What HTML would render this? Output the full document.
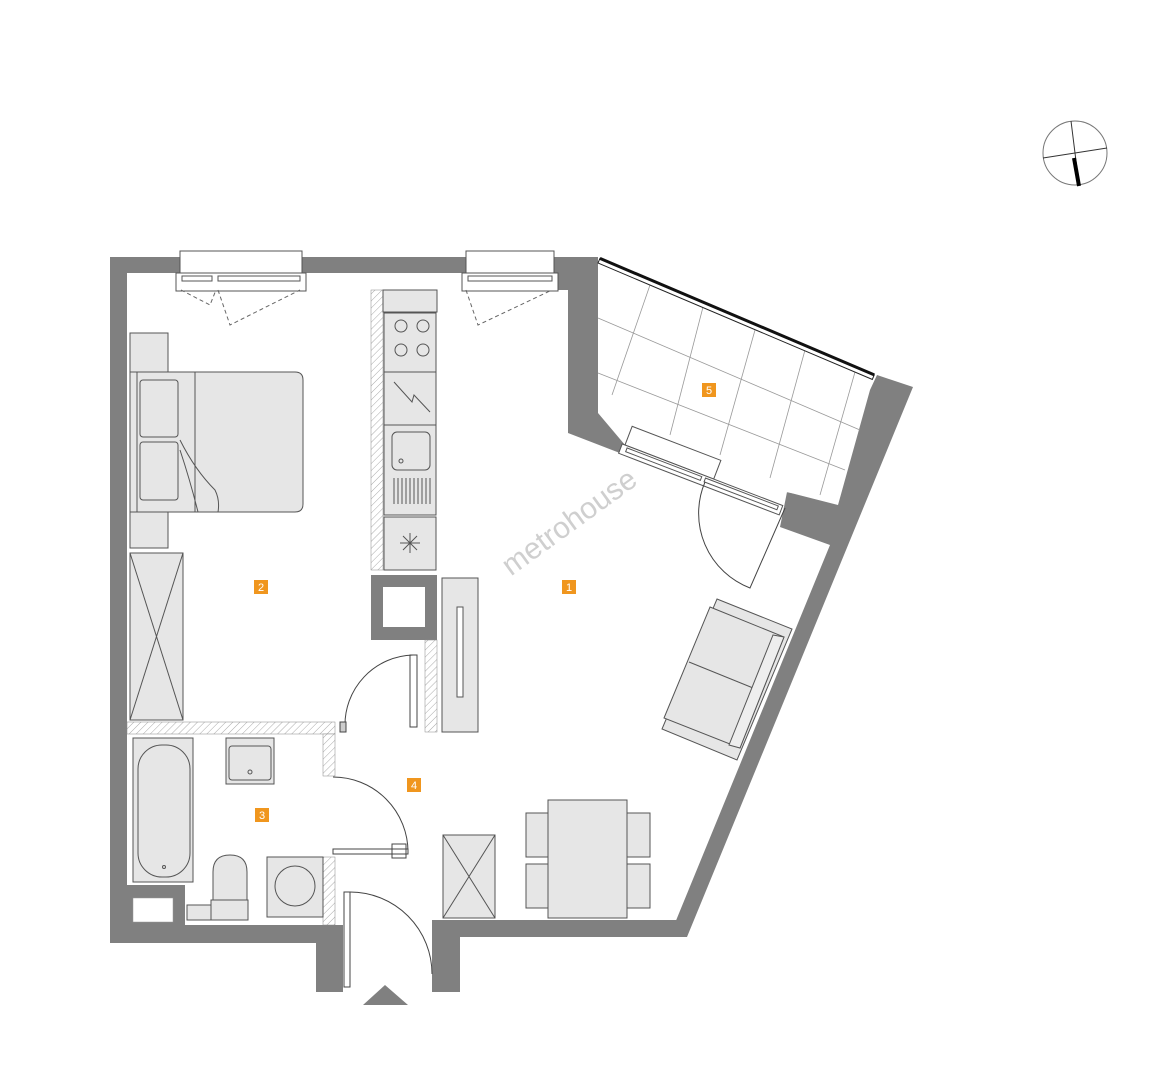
<!DOCTYPE html>
<html><head><meta charset="utf-8"><style>
html,body{margin:0;padding:0;background:#fff;}
svg{display:block;}
</style></head><body>
<svg width="1160" height="1080" viewBox="0 0 1160 1080" xmlns="http://www.w3.org/2000/svg" font-family="Liberation Sans, sans-serif">
<defs>
<pattern id="h" width="5" height="5" patternUnits="userSpaceOnUse" patternTransform="rotate(45)">
<rect width="5" height="5" fill="#fff"/><line x1="0" y1="0" x2="0" y2="5" stroke="#aaa" stroke-width="1"/>
</pattern>
</defs>
<g fill="#808080">
<rect x="110" y="257" width="17" height="686"/>
<rect x="110" y="257" width="488" height="16"/>
<rect x="555" y="257" width="43" height="33"/>
<polygon points="568,257 598,257 598,410 635,428 625,455 568,433"/>
<polygon points="877,375 913,387 687,937 675,923 830,545 780,527 787,492 838,505 870,390"/>
<rect x="110" y="925" width="233" height="18"/>
<rect x="316" y="925" width="27" height="67"/>
<rect x="432" y="920" width="255" height="17"/>
<rect x="432" y="920" width="28" height="72"/>
<rect x="127" y="885" width="58" height="40"/>
<rect x="371" y="575" width="66" height="65"/>
<polygon points="363,1005 385,985 408,1005"/>
</g>
<rect x="133" y="898" width="40" height="24" fill="#fff" stroke="#999" stroke-width="0.5"/>
<rect x="383" y="587" width="42" height="40" fill="#fff"/>
<!-- windows -->
<g fill="#fff" stroke="#555" stroke-width="1">
<rect x="180" y="251" width="122" height="22"/>
<rect x="176" y="273" width="130" height="18"/>
<rect x="466" y="251" width="88" height="22"/>
<rect x="462" y="273" width="96" height="18"/>
</g>
<g stroke="#555" fill="none" stroke-width="1">
<rect x="182" y="276" width="30" height="5"/><rect x="218" y="276" width="82" height="5"/>
<rect x="468" y="276" width="84" height="5"/>
</g>
<g stroke="#666" fill="none" stroke-width="1" stroke-dasharray="4,3">
<polyline points="181,290 210,305 216,290"/>
<polyline points="218,290 230,325 300,290"/>
<polyline points="466,290 478,325 552,290"/>
</g>
<!-- balcony floor -->
<polygon points="598,263 872,378 830,500 786,492 712,478 625,445 598,413" fill="#fff"/>
<g stroke="#999" stroke-width="0.8">
<line x1="598" y1="318" x2="860" y2="430"/>
<line x1="598" y1="373" x2="845" y2="470"/>
<line x1="650" y1="285" x2="612" y2="395"/>
<line x1="703" y1="307" x2="670" y2="435"/>
<line x1="755" y1="330" x2="720" y2="455"/>
<line x1="805" y1="350" x2="770" y2="478"/>
<line x1="855" y1="372" x2="820" y2="495"/>
</g>
<g transform="rotate(23 598 263)">
<rect x="598" y="258" width="298" height="5" fill="#fff" stroke="#222" stroke-width="1"/>
<line x1="598" y1="258" x2="896" y2="258" stroke="#111" stroke-width="3"/>
</g>
<g transform="rotate(21 625 445)">
<rect x="625" y="425" width="95" height="20" fill="#fff" stroke="#555"/>
<rect x="622" y="445" width="172" height="10" fill="#fff" stroke="#555"/>
<rect x="628" y="447" width="80" height="4" fill="none" stroke="#555"/>
<rect x="712" y="447" width="78" height="4" fill="none" stroke="#555"/>
</g>
<path d="M705,482 A80,80 0 0 0 750,588 L785,508" fill="none" stroke="#444" stroke-width="1"/>
<!-- bedroom -->
<g stroke="#555" stroke-width="1" fill="#e6e6e6">
<rect x="130" y="333" width="38" height="215"/>
<path d="M130,372 H295 Q303,372 303,380 V504 Q303,512 295,512 H130 Z"/>
<rect x="137" y="372" width="58" height="140"/>
<rect x="140" y="380" width="38" height="57" rx="3"/>
<rect x="140" y="442" width="38" height="58" rx="3"/>
<rect x="130" y="553" width="53" height="167"/>
</g>
<path d="M180,440 Q195,470 215,490 Q220,500 218,512 M180,450 Q190,480 198,512" fill="none" stroke="#555"/>
<line x1="130" y1="553" x2="183" y2="720" stroke="#555"/><line x1="183" y1="553" x2="130" y2="720" stroke="#555"/>
<!-- kitchen -->
<rect x="371" y="290" width="12" height="280" fill="url(#h)" stroke="#888" stroke-width="0.5"/>
<g stroke="#555" fill="#e6e6e6">
<rect x="383" y="290" width="54" height="22"/>
<rect x="384" y="313" width="52" height="59"/>
<rect x="384" y="372" width="52" height="53"/>
<rect x="384" y="425" width="52" height="90"/>
<rect x="384" y="517" width="52" height="53"/>
<rect x="392" y="432" width="38" height="38" rx="5"/>
</g>
<g stroke="#555" fill="none">
<circle cx="401" cy="326" r="6"/><circle cx="423" cy="326" r="6"/>
<circle cx="401" cy="350" r="6"/><circle cx="423" cy="350" r="6"/>
<polyline points="394,382 412,402 414,395 430,412"/>
<circle cx="401" cy="461" r="2"/>
<path d="M394,478v26M398,478v26M402,478v26M406,478v26M410,478v26M414,478v26M418,478v26M422,478v26M426,478v26M430,478v26"/>
<path d="M400,543h20M410,533v20M403,536l14,14M417,536l-14,14"/>
</g>
<rect x="442" y="578" width="36" height="154" fill="#e6e6e6" stroke="#555"/>
<rect x="457" y="607" width="6" height="90" fill="#fff" stroke="#555"/>
<rect x="425" y="640" width="12" height="92" fill="url(#h)" stroke="#888" stroke-width="0.5"/>
<!-- bedroom door -->
<rect x="410" y="655" width="7" height="72" fill="#fff" stroke="#444"/>
<path d="M345,727 A70,70 0 0 1 413,655" fill="none" stroke="#444"/>
<rect x="340" y="722" width="6" height="10" fill="#ccc" stroke="#444"/>
<!-- bathroom walls -->
<rect x="127" y="722" width="208" height="12" fill="url(#h)" stroke="#888" stroke-width="0.5"/>
<rect x="323" y="734" width="12" height="42" fill="url(#h)" stroke="#888" stroke-width="0.5"/>
<rect x="323" y="857" width="12" height="68" fill="url(#h)" stroke="#888" stroke-width="0.5"/>
<path d="M333,777 A75,75 0 0 1 408,852" fill="none" stroke="#444"/>
<rect x="333" y="849" width="75" height="5" fill="#fff" stroke="#444"/>
<rect x="392" y="844" width="14" height="14" fill="none" stroke="#444"/>
<!-- bathroom fixtures -->
<g stroke="#555" fill="#e6e6e6">
<rect x="133" y="738" width="60" height="144"/>
<rect x="138" y="745" width="52" height="132" rx="24"/>
<rect x="226" y="738" width="48" height="46"/>
<rect x="229" y="746" width="42" height="34" rx="3"/>
<rect x="267" y="857" width="56" height="60"/>
<rect x="187" y="905" width="24" height="15"/>
<rect x="211" y="900" width="37" height="20"/>
<path d="M213,900 V872 Q213,855 230,855 Q247,855 247,872 V900 Z"/>
</g>
<circle cx="295" cy="886" r="20" fill="none" stroke="#555"/>
<circle cx="250" cy="772" r="2" fill="none" stroke="#555"/>
<circle cx="164" cy="867" r="1.5" fill="none" stroke="#555"/>
<!-- entry door -->
<rect x="344" y="892" width="6" height="95" fill="#fff" stroke="#444"/>
<path d="M350,892 A82,82 0 0 1 432,974" fill="none" stroke="#444"/>
<!-- entry cabinet, dining -->
<g stroke="#555" fill="#e6e6e6">
<rect x="443" y="835" width="52" height="83"/>
<rect x="526" y="813" width="22" height="44"/><rect x="526" y="864" width="22" height="44"/>
<rect x="627" y="813" width="23" height="44"/><rect x="627" y="864" width="23" height="44"/>
<rect x="548" y="800" width="79" height="118"/>
</g>
<path d="M443,835L495,918M495,835L443,918" stroke="#555"/>
<!-- sofa -->
<g stroke="#555" fill="#e6e6e6">
<polygon points="717,599 792,629 737,760 662,729"/>
<polygon points="710,607 784,637 740,748 664,718"/>
<line x1="689" y1="662" x2="758" y2="690"/>
<polygon points="773,635 784,637 740,748 729,745" fill="#eee"/>
</g>
<!-- labels -->
<g fill="#f0961e">
<rect x="254" y="580" width="14" height="14"/><rect x="562" y="580" width="14" height="14"/>
<rect x="255" y="808" width="14" height="14"/><rect x="407" y="778" width="14" height="14"/>
<rect x="702" y="383" width="14" height="14"/>
</g>
<g fill="#fff" font-size="11" text-anchor="middle">
<text x="261" y="591">2</text><text x="569" y="591">1</text>
<text x="262" y="819">3</text><text x="414" y="789">4</text><text x="709" y="394">5</text>
</g>
<text x="575" y="530" font-size="30" fill="#cfcfcf" text-anchor="middle" transform="rotate(-36 575 530)">metrohouse</text>
<!-- compass -->
<circle cx="1075" cy="153" r="32" fill="none" stroke="#777" stroke-width="1"/>
<line x1="1043" y1="158" x2="1107" y2="148" stroke="#333"/>
<line x1="1071" y1="121" x2="1079" y2="185" stroke="#333"/>
<line x1="1074" y1="158" x2="1079" y2="186" stroke="#000" stroke-width="4"/>
</svg>
</body></html>
